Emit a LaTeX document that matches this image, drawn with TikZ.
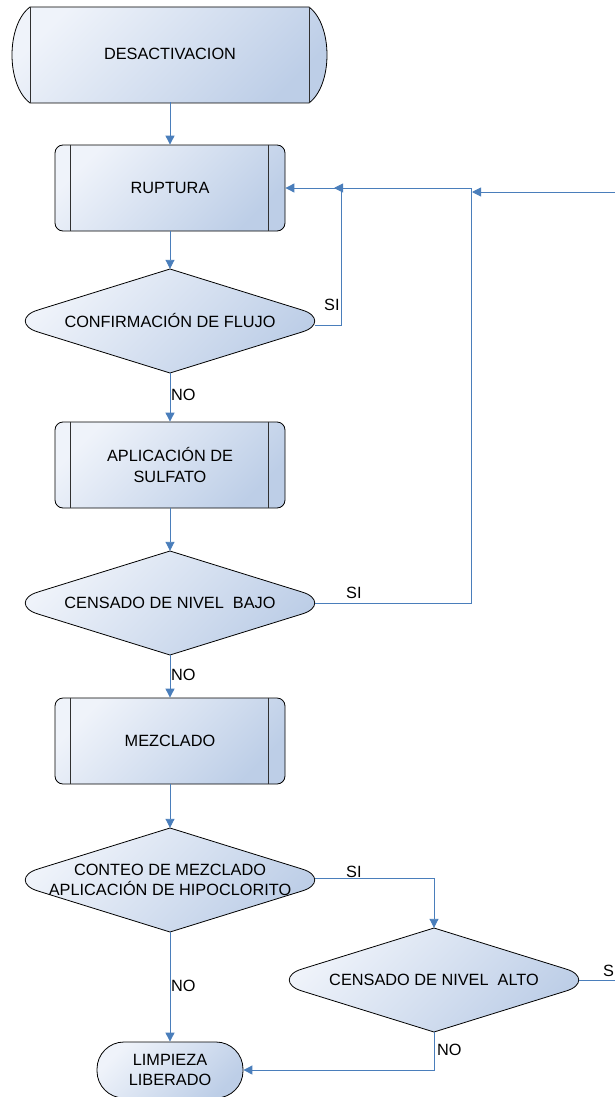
\documentclass[tikz,border=0pt]{standalone}
\usepackage{fontspec}
\setmainfont{Liberation Sans}
\usetikzlibrary{arrows.meta,calc}

\definecolor{flow}{HTML}{4A7EBB}
\definecolor{fillA}{HTML}{EFF3FA}
\definecolor{fillB}{HTML}{BDCEE7}
\definecolor{barline}{HTML}{303030}

\tikzset{
  shapefill/.style={top color=fillA, bottom color=fillB, shading angle=45,
                    draw=black, line width=0.8pt},
  proc/.style={rectangle, rounded corners=8pt, minimum width=230pt,
               minimum height=86pt, shapefill, align=center, inner sep=0pt},
  decision/.style={rectangle, minimum width=290pt, minimum height=104pt,
                   align=center, inner sep=0pt},
  terminal/.style={rectangle, rounded corners=27pt, minimum width=146pt,
                   minimum height=56pt, shapefill, align=center, inner sep=0pt},
  conn/.style={draw=flow, line width=0.9pt},
  arr/.style={conn, -{Triangle[length=9pt,width=9pt]}},
  lbl/.style={inner sep=0pt, anchor=west},
}

% predefined process: box with two side bars
\newcommand\procbox[3]{%
  \node[proc] (#1) at (#2) {#3};
  \draw[barline, line width=0.8pt] ($(#1.north west)+(16pt,0)$) -- ($(#1.south west)+(16pt,0)$);
  \draw[barline, line width=0.8pt] ($(#1.north east)+(-17pt,0)$) -- ($(#1.south east)+(-17pt,0)$);
}

% decision: diamond with blunt left and right tips
\newcommand\decisionat[3]{%
  \path[shapefill, shift={(#2)}]
    (0,52) -- (-132,11) .. controls (-149,6) and (-149,-6) .. (-132,-11)
    -- (0,-52) -- (132,-11) .. controls (149,-6) and (149,6) .. (132,11) -- cycle;
  \node[decision] (#1) at (#2) {#3};
}

\begin{document}
\begin{tikzpicture}[x=1pt, y=1pt, font=\fontsize{16.3}{20.5}\selectfont]
\useasboundingbox (0,0) rectangle (615,-1097);
\clip (0,0) rectangle (615,-1097);

% start: stored data style block
\path[shapefill] (30,-7) -- (309,-7) .. controls (333,-25) and (333,-85) .. (309,-103)
   -- (30,-103) .. controls (6,-85) and (6,-25) .. (30,-7) -- cycle;
\draw[barline, line width=0.8pt] (30,-7) -- (30,-103);
\draw[barline, line width=0.8pt] (309,-7) -- (309,-103);
\node[rectangle, minimum width=279pt, minimum height=96pt, inner sep=0pt] (des) at (170,-54) {DESACTIVACION};

\procbox{rup}{170,-188}{RUPTURA}
\decisionat{conf}{170,-321}{CONFIRMACIÓN DE FLUJO}
\procbox{sulf}{170,-465}{APLICACIÓN DE\\SULFATO}
\decisionat{bajo}{170,-603}{CENSADO DE NIVEL\ \ BAJO}
\procbox{mez}{170,-741}{MEZCLADO}
\decisionat{cont}{170,-880}{CONTEO DE MEZCLADO\\APLICACIÓN DE HIPOCLORITO}
\decisionat{alto}{434,-980}{CENSADO DE NIVEL\ \ ALTO}
\node[terminal] (limp) at (170,-1070) {LIMPIEZA\\LIBERADO};

% junction points of the return lines
\coordinate (j1) at (341,-188);
\coordinate (m1) at (334,-188);
\coordinate (j2) at (471,-188);
\coordinate (m2) at (472,-192);
\coordinate (o1) at (640,-980);
\coordinate (o2) at (640,-192);

% main column
\draw[arr] (des.south) -- (rup.north);
\draw[arr] (rup.south) -- (conf.north);
\draw[arr] (conf.south) -- (sulf.north);
\draw[arr] (sulf.south) -- (bajo.north);
\draw[arr] (bajo.south) -- (mez.north);
\draw[arr] (mez.south) -- (cont.north);
\draw[arr] (cont.south) -- (limp.north);

% return loops
\draw[arr] ($(conf.east)+(0,-4)$) -| (j1) -- (rup.east);
\draw[arr] (bajo.east) -| (j2) -- (m1);
\draw[arr] (alto.east) -- (o1) -- (o2) -- (m2);

% branches
\draw[arr] ($(cont.east)+(0,2)$) -| (alto.north);
\draw[arr] (alto.south) |- (limp.east);

% labels
\node[lbl] (l1) at (324,-305) {SI};
\node[lbl] (l2) at (171,-395) {NO};
\node[lbl] (l3) at (346,-593) {SI};
\node[lbl] (l4) at (171,-675) {NO};
\node[lbl] (l5) at (346,-872) {SI};
\node[lbl] (l6) at (171,-986) {NO};
\node[lbl] (l7) at (603,-971) {SI};
\node[lbl] (l8) at (437,-1050) {NO};
\end{tikzpicture}
\end{document}
